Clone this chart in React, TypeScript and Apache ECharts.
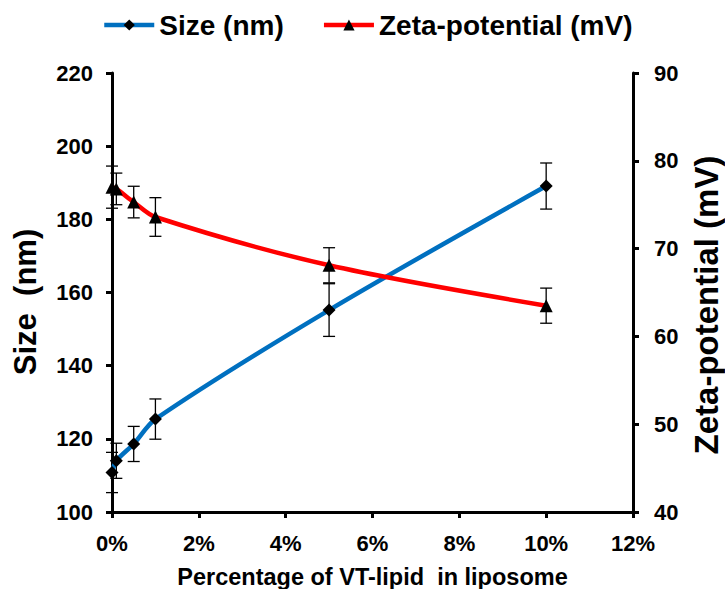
import React, { useEffect, useRef } from "react";
import * as echarts from "echarts";

const xValues = [0, 0.1, 0.5, 1, 5, 10];
const sizeValues = [110.8, 114.0, 118.6, 125.4, 155.2, 189.1];
const sizeErrors = [5.5, 4.8, 4.8, 5.5, 7.2, 6.3];
const zetaValues = [77.0, 76.8, 75.3, 73.6, 68.1, 63.5];
const zetaErrors = [2.4, 1.8, 1.8, 2.2, 2.0, 2.0];

const FONT = "Arial, 'Liberation Sans', Helvetica, sans-serif";

function errorRender(params: any, api: any) {
  const x = api.value(0);
  const lo = api.value(1);
  const hi = api.value(2);
  const p1 = api.coord([x, lo]);
  const p2 = api.coord([x, hi]);
  const hw = 6;
  const style = { stroke: "#000", lineWidth: 1.3 };
  return {
    type: "group",
    children: [
      { type: "line", shape: { x1: p1[0], y1: p1[1], x2: p2[0], y2: p2[1] }, style },
      { type: "line", shape: { x1: p1[0] - hw, y1: p1[1], x2: p1[0] + hw, y2: p1[1] }, style },
      { type: "line", shape: { x1: p2[0] - hw, y1: p2[1], x2: p2[0] + hw, y2: p2[1] }, style },
    ],
  };
}

export default function App() {
  const ref = useRef<HTMLDivElement>(null);
  useEffect(() => {
    if (!ref.current) return;
    const chart = echarts.init(ref.current, undefined, { renderer: "svg" });
    const sizeData = xValues.map((x, i) => [x, sizeValues[i]]);
    const zetaData = xValues.map((x, i) => [x, zetaValues[i]]);
    const sizeErr = xValues.map((x, i) => [x, sizeValues[i] - sizeErrors[i], sizeValues[i] + sizeErrors[i]]);
    const zetaErr = xValues.map((x, i) => [x, zetaValues[i] - zetaErrors[i], zetaValues[i] + zetaErrors[i]]);
    const axisLabel = { color: "#000", fontSize: 22, fontWeight: "bold", fontFamily: FONT };
    const axisLine = { show: true, lineStyle: { color: "#000", width: 3 } };
    const axisTick = { show: true, length: 6, lineStyle: { color: "#000", width: 3 } };
    chart.setOption({
      animation: false,
      backgroundColor: "#fff",
      grid: { left: 112, right: 92, top: 73, bottom: 77, outerBoundsMode: "none" },
      legend: {
        top: 6,
        left: 97,
        itemWidth: 50,
        itemHeight: 14,
        itemGap: 38,
        lineStyle: { width: 4.5 },
        data: ["Size (nm)", "Zeta-potential (mV)"],
        textStyle: { color: "#000", fontSize: 28, fontWeight: "bold", fontFamily: FONT },
      },
      xAxis: {
        type: "value",
        min: 0,
        max: 12,
        interval: 2,
        axisLine,
        axisTick,
        splitLine: { show: false },
        axisLabel: { ...axisLabel, margin: 20, formatter: "{value}%" },
        name: "Percentage of VT-lipid  in liposome",
        nameLocation: "middle",
        nameGap: 53,
        nameTextStyle: { color: "#000", fontSize: 23.5, fontWeight: "bold", fontFamily: FONT },
      },
      yAxis: [
        {
          type: "value",
          position: "left",
          min: 100,
          max: 220,
          interval: 20,
          axisLine,
          axisTick,
          splitLine: { show: false },
          axisLabel: { ...axisLabel, margin: 19 },
        },
        {
          type: "value",
          position: "right",
          min: 40,
          max: 90,
          interval: 10,
          axisLine,
          axisTick,
          splitLine: { show: false },
          axisLabel: { ...axisLabel, margin: 21 },
        },
      ],
      graphic: [
        {
          type: "text",
          x: 25,
          y: 302,
          rotation: Math.PI / 2,
          style: {
            text: "Size  (nm)",
            fill: "#000",
            fontSize: 31,
            fontWeight: "bold",
            fontFamily: FONT,
            align: "center",
            verticalAlign: "middle",
          },
        },
        {
          type: "text",
          x: 706,
          y: 305,
          rotation: Math.PI / 2,
          style: {
            text: "Zeta-potential (mV)",
            fill: "#000",
            fontSize: 33,
            fontWeight: "bold",
            fontFamily: FONT,
            align: "center",
            verticalAlign: "middle",
          },
        },
      ],
      series: [
        {
          type: "custom",
          name: "sizeErr",
          yAxisIndex: 0,
          renderItem: errorRender,
          data: sizeErr,
          encode: { x: 0, y: [1, 2] },
          z: 1,
          silent: true,
        },
        {
          type: "custom",
          name: "zetaErr",
          yAxisIndex: 1,
          renderItem: errorRender,
          data: zetaErr,
          encode: { x: 0, y: [1, 2] },
          z: 1,
          silent: true,
        },
        {
          type: "line",
          name: "Size (nm)",
          yAxisIndex: 0,
          data: sizeData,
          smooth: 0.3,
          symbol: "diamond",
          symbolSize: 13,
          itemStyle: { color: "#000" },
          lineStyle: { color: "#0070C0", width: 4.5 },
          z: 3,
        },
        {
          type: "line",
          name: "Zeta-potential (mV)",
          yAxisIndex: 1,
          data: zetaData,
          smooth: 0.3,
          symbol: "triangle",
          symbolSize: 13,
          itemStyle: { color: "#000" },
          lineStyle: { color: "#FF0000", width: 4.5 },
          z: 3,
        },
      ],
    });
    return () => chart.dispose();
  }, []);
  return (
    <div
      ref={ref}
      style={{ position: "fixed", left: 0, top: 0, width: 725, height: 589 }}
    />
  );
}
